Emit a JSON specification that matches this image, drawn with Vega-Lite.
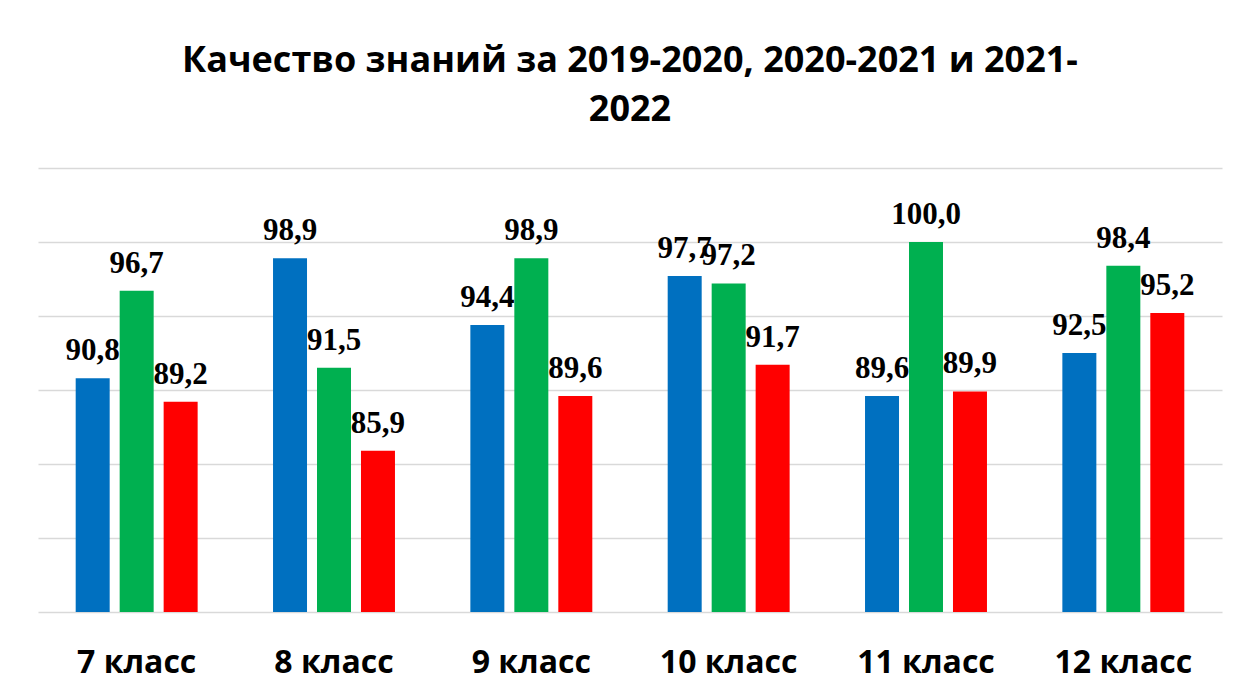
{
  "$schema": "https://vega.github.io/schema/vega-lite/v6.json",
  "width": 1184,
  "height": 444,
  "autosize": {"type": "none"},
  "padding": {"left": 38, "top": 168, "right": 19, "bottom": 79},
  "background": "white",
  "config": {
    "view": {"stroke": null},
    "locale": {"number": {"decimal": ",", "thousands": " ", "grouping": [3], "currency": ["", ""]}}
  },
  "title": {
    "text": ["Качество знаний за 2019-2020, 2020-2021 и 2021-", "2022"],
    "font": "Open Sans",
    "fontSize": 36,
    "fontWeight": "bold",
    "color": "#000000",
    "lineHeight": 49,
    "anchor": "middle",
    "offset": 39
  },
  "data": {
    "values": [
      {"grade": "7 класс", "year": "2019-2020", "value": 90.8},
      {"grade": "7 класс", "year": "2020-2021", "value": 96.7},
      {"grade": "7 класс", "year": "2021-2022", "value": 89.2},
      {"grade": "8 класс", "year": "2019-2020", "value": 98.9},
      {"grade": "8 класс", "year": "2020-2021", "value": 91.5},
      {"grade": "8 класс", "year": "2021-2022", "value": 85.9},
      {"grade": "9 класс", "year": "2019-2020", "value": 94.4},
      {"grade": "9 класс", "year": "2020-2021", "value": 98.9},
      {"grade": "9 класс", "year": "2021-2022", "value": 89.6},
      {"grade": "10 класс", "year": "2019-2020", "value": 97.7},
      {"grade": "10 класс", "year": "2020-2021", "value": 97.2},
      {"grade": "10 класс", "year": "2021-2022", "value": 91.7},
      {"grade": "11 класс", "year": "2019-2020", "value": 89.6},
      {"grade": "11 класс", "year": "2020-2021", "value": 100.0},
      {"grade": "11 класс", "year": "2021-2022", "value": 89.9},
      {"grade": "12 класс", "year": "2019-2020", "value": 92.5},
      {"grade": "12 класс", "year": "2020-2021", "value": 98.4},
      {"grade": "12 класс", "year": "2021-2022", "value": 95.2}
    ]
  },
  "encoding": {
    "x": {
      "field": "grade",
      "type": "nominal",
      "sort": null,
      "scale": {"paddingInner": 0.382, "paddingOuter": 0.191},
      "axis": {
        "title": null,
        "labelAngle": 0,
        "domain": false,
        "ticks": false,
        "labelFont": "Open Sans",
        "labelFontSize": 32,
        "labelFontWeight": "bold",
        "labelColor": "#000000",
        "labelPadding": 35
      }
    },
    "xOffset": {
      "field": "year",
      "type": "nominal",
      "sort": null,
      "scale": {"paddingInner": 0.227, "paddingOuter": 0}
    },
    "y": {
      "field": "value",
      "type": "quantitative",
      "scale": {"domain": [75, 105], "nice": false, "zero": false},
      "axis": {
        "title": null,
        "labels": false,
        "ticks": false,
        "domain": false,
        "values": [75, 80, 85, 90, 95, 100, 105],
        "grid": true,
        "gridColor": "#d9d9d9",
        "gridWidth": 1.5
      }
    }
  },
  "layer": [
    {
      "mark": {"type": "bar"},
      "encoding": {
        "y2": {"datum": 75},
        "color": {
          "field": "year",
          "type": "nominal",
          "sort": null,
          "scale": {"domain": ["2019-2020", "2020-2021", "2021-2022"], "range": ["#0070C0", "#00B050", "#FF0000"]},
          "legend": null
        }
      }
    },
    {
      "mark": {
        "type": "text",
        "font": "Liberation Serif",
        "fontSize": 31,
        "fontWeight": "bold",
        "color": "#000000",
        "baseline": "alphabetic",
        "align": "center",
        "dy": -18
      },
      "encoding": {
        "text": {"field": "value", "type": "quantitative", "format": ".1f"}
      }
    }
  ]
}
